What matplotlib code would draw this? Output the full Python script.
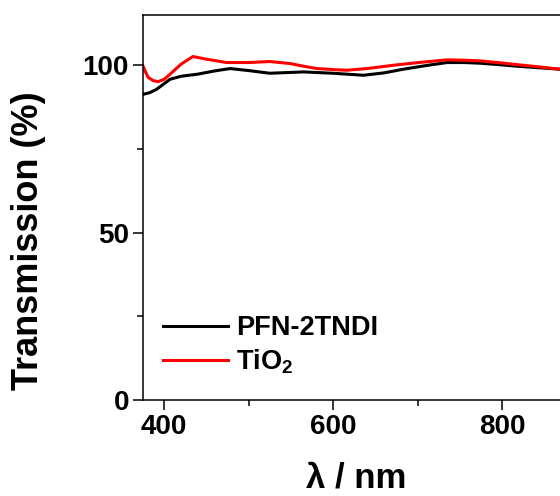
import numpy as np
import matplotlib
matplotlib.use("Agg")
import matplotlib.pyplot as plt
from matplotlib.ticker import MultipleLocator

plt.rcParams['font.family'] = ['Liberation Sans', 'DejaVu Sans']
plt.rcParams['font.weight'] = 'bold'
plt.rcParams['mathtext.fontset'] = 'custom'
plt.rcParams['mathtext.rm'] = 'Liberation Sans:bold'
plt.rcParams['mathtext.it'] = 'Liberation Sans:bold'
plt.rcParams['mathtext.bf'] = 'Liberation Sans:bold'

# values
wl_pfn = [375, 383, 391, 399, 407, 420, 439, 460, 478, 500, 525, 545, 565, 600, 636, 660,
          683, 710, 735, 755, 774, 795, 813, 840, 869, 900]
t_pfn = [91.3, 91.8, 92.8, 94.3, 95.8, 96.7, 97.3, 98.3, 99.0, 98.4, 97.6, 97.8, 98.0,
         97.6, 97.0, 97.7, 98.8, 99.9, 100.8, 100.8, 100.6, 100.2, 99.8, 99.3, 98.8, 98.2]

wl_tio2 = [375, 378, 381, 387, 393, 400, 407, 420, 434, 450, 474, 500, 525, 549, 565, 581,
           600, 616, 640, 675, 705, 735, 755, 774, 795, 813, 840, 869, 900]
t_tio2 = [99.8, 98.0, 96.4, 95.4, 95.1, 95.8, 97.3, 100.3, 102.6, 101.8, 100.8, 100.8,
          101.1, 100.5, 99.7, 99.0, 98.7, 98.5, 99.0, 100.1, 100.9, 101.6, 101.5, 101.3,
          100.8, 100.3, 99.6, 98.8, 98.2]

fig = plt.figure(figsize=(5.6, 4.96), dpi=100)
ax = fig.add_axes([143 / 560, 96 / 496, 443.6 / 560, 385 / 496])

ax.plot(wl_pfn, t_pfn, color='black', lw=2.2, label='PFN-2TNDI')
ax.plot(wl_tio2, t_tio2, color='#ff0000', lw=2.2, label='TiO$_2$')

ax.set_xlim(375, 900)
ax.set_ylim(0, 115)
ax.xaxis.set_major_locator(MultipleLocator(200))
ax.xaxis.set_minor_locator(MultipleLocator(100))
ax.yaxis.set_major_locator(MultipleLocator(50))
ax.yaxis.set_minor_locator(MultipleLocator(25))
ax.tick_params(which='major', direction='out', length=7, width=1.1, labelsize=20, pad=3)
ax.tick_params(which='minor', direction='out', length=4, width=1.1)
ax.tick_params(top=False, right=False)
for s in ax.spines.values():
    s.set_linewidth(1.1)

leg = ax.legend(loc='lower left', bbox_to_anchor=(0.02, 0.035), frameon=False,
                fontsize=19.5, handlelength=2.4, handletextpad=0.3, labelspacing=0.22,
                borderaxespad=0)
for ln in leg.get_lines():
    ln.set_linewidth(2.2)

fig.text(29 / 560, 0.514, 'Transmission (%)', rotation=90, ha='center', va='center',
         fontsize=26, fontweight='bold')
fig.text(356 / 560, 0.036, 'λ / nm', ha='center', va='center', fontsize=25, fontweight='bold')

fig.savefig('out.png', dpi=100)
